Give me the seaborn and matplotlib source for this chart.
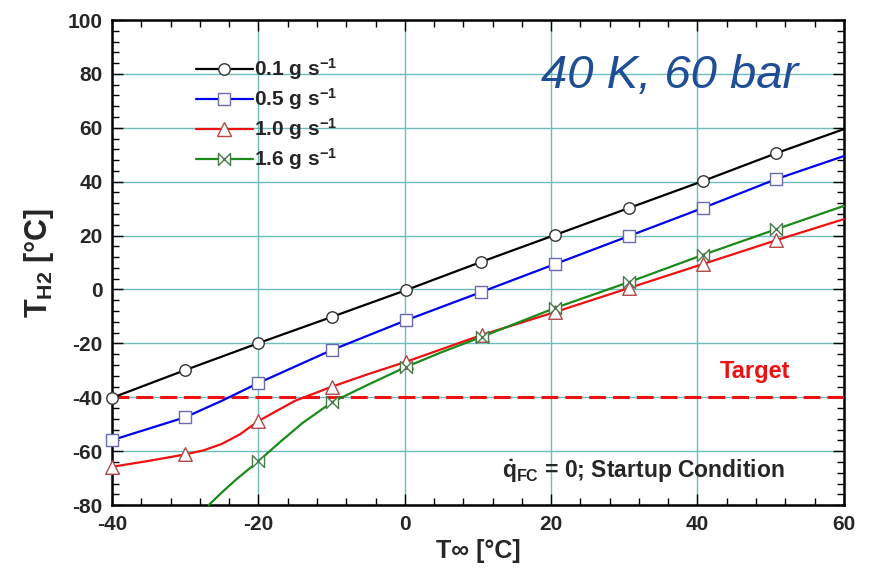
import numpy as np
import pandas as pd
import matplotlib
matplotlib.use("Agg")
import matplotlib.pyplot as plt
from matplotlib.path import Path
from matplotlib.lines import Line2D
from matplotlib.ticker import MultipleLocator
import seaborn as sns

sns.set_theme(style="ticks")
plt.rcParams['font.family'] = ['Liberation Sans', 'DejaVu Sans']
plt.rcParams['mathtext.fontset'] = 'custom'
plt.rcParams['mathtext.rm'] = 'Liberation Sans:bold'
plt.rcParams['mathtext.it'] = 'Liberation Sans:bold:italic'
plt.rcParams['mathtext.bf'] = 'Liberation Sans:bold'
plt.rcParams['axes.unicode_minus'] = False

# curve data (T_inf [C] -> T_H2 [C])
x_01 = [-40, -30, -20, -10, 0.2, 10.4, 20.5, 30.6, 40.7, 50.8, 60]
y_01 = [-40.2, -29.9, -19.9, -10.2, -0.2, 10.2, 20.2, 30.2, 40.2, 50.6, 59.5]

x_05 = [-40, -30, -25, -20, -10, 0.2, 10.4, 20.5, 30.6, 40.7, 50.8, 60]
y_05 = [-55.9, -47.4, -41.3, -34.7, -22.5, -11.4, -1.0, 9.4, 19.8, 30.2, 41.0, 49.5]

x_10 = [-40, -35, -30, -27.5, -25, -22.5, -20, -15, -10, -5, 0.2, 10.5, 20.5, 30.6, 40.7, 50.8, 60]
y_10 = [-65.8, -63.6, -61.2, -59.7, -57.3, -53.7, -48.8, -41.3, -36.1, -31.4, -26.8, -16.9, -8.4, 0.5, 9.4, 18.3, 26.1]

x_16 = [-26.8, -25, -23, -20, -17, -14, -10, -5, 0.2, 5, 10.5, 20.5, 30.6, 40.7, 50.8, 60]
y_16 = [-80, -75.3, -70.4, -63.7, -56.5, -49.6, -41.9, -35.3, -28.7, -23.3, -17.6, -6.9, 2.7, 12.8, 22.4, 31.0]

# marker positions
mx_01 = [-40, -30, -20, -10, 0.2, 10.4, 20.5, 30.6, 40.7, 50.8]
my_01 = [-40.2, -29.9, -19.9, -10.2, -0.2, 10.2, 20.2, 30.2, 40.2, 50.6]
mx_05 = [-40, -30, -20, -10, 0.2, 10.4, 20.5, 30.6, 40.7, 50.8]
my_05 = [-55.9, -47.4, -34.7, -22.5, -11.4, -1.0, 9.4, 19.8, 30.2, 41.0]
mx_10 = [-40, -30, -20, -10, 0.2, 10.5, 20.5, 30.6, 40.7, 50.8]
my_10 = [-65.8, -61.2, -48.8, -36.1, -26.8, -16.9, -8.4, 0.5, 9.4, 18.3]
mx_16 = [-20, -10, 0.2, 10.5, 20.5, 30.6, 40.7, 50.8]
my_16 = [-63.7, -41.9, -28.7, -17.6, -6.9, 2.7, 12.8, 22.4]

labels = ["0.1 g s$^{-1}$", "0.5 g s$^{-1}$", "1.0 g s$^{-1}$", "1.6 g s$^{-1}$"]
target = -40

bowtie = Path([(-1, -1), (1, 1), (1, -1), (-1, 1), (-1, -1)],
              [Path.MOVETO, Path.LINETO, Path.LINETO, Path.LINETO, Path.CLOSEPOLY])

series = [
    (x_01, y_01, mx_01, my_01, "black", "#333333", "o", 68),
    (x_05, y_05, mx_05, my_05, "#0000ee", "#6a6ab0", "s", 82),
    (x_10, y_10, mx_10, my_10, "#ee1111", "#b04848", "^", 95),
    (x_16, y_16, mx_16, my_16, "#1a8a1a", "#4a7a4a", bowtie, 75),
]

fig = plt.figure(figsize=(8.69, 5.72), dpi=100)
ax = fig.add_axes([0.129, 0.117, 0.842, 0.848])

grid_c = "#6fbcbc"
ax.axhline(target, color="#ee1111", lw=2.2, dashes=(5.5, 2.3), zorder=3)

handles = []
for (cx, cy, mx, my, lc, ec, mk, s), lab in zip(series, labels):
    df = pd.DataFrame({"x": cx, "y": cy})
    sns.lineplot(data=df, x="x", y="y", ax=ax, color=lc, linewidth=1.6,
                 sort=False, estimator=None, zorder=4, clip_on=False)
    ax.scatter(mx, my, marker=mk, s=s, facecolor="white", edgecolor=ec,
               linewidth=1.0, zorder=5, clip_on=False)
    handles.append(Line2D([], [], color=lc, lw=1.6, marker=mk, markersize=np.sqrt(s),
                          markerfacecolor="white", markeredgecolor=ec, markeredgewidth=1.0,
                          label=lab))

ax.set_xlim(-40, 60)
ax.set_ylim(-80, 100)
ax.xaxis.set_major_locator(MultipleLocator(20))
ax.yaxis.set_major_locator(MultipleLocator(20))
ax.xaxis.set_minor_locator(MultipleLocator(4))
ax.yaxis.set_minor_locator(MultipleLocator(4))
ax.grid(True, which="major", color=grid_c, lw=1.0, zorder=0)
ax.tick_params(which="both", direction="in", top=True, right=True, color="black")
ax.tick_params(which="major", length=8, width=1, labelsize=15, pad=7)
ax.tick_params(which="minor", length=5, width=1)
for lbl in ax.get_xticklabels() + ax.get_yticklabels():
    lbl.set_fontweight("bold")
for sp in ax.spines.values():
    sp.set_linewidth(1.8)
    sp.set_color("black")

ax.set_xlabel("T\u221e [°C]", fontsize=18, fontweight="bold", labelpad=4)
ax.set_ylabel(r"T$_{\mathbf{H2}}$ [°C]", fontsize=22, fontweight="bold", labelpad=8)

ax.legend(handles=handles, loc="upper left", bbox_to_anchor=(0.114, 0.925), frameon=False,
          prop={"weight": "bold", "size": 15}, handlelength=2.75, handletextpad=0.08,
          labelspacing=0.2, numpoints=1, borderaxespad=0, borderpad=0)

ax.text(36.2, 74.8, "40 K, 60 bar", fontsize=34, style="italic", color="#1f4e96",
        ha="center", va="baseline")
ax.text(47.8, -30.3, "Target", fontsize=17, fontweight="bold", color="#ee1111",
        ha="center", va="center")
ax.text(13.3, -70, r"$\dot{\mathrm{q}}_{\mathrm{FC}}$ = 0; Startup Condition", fontsize=16.5,
        fontweight="bold", ha="left", va="baseline")

fig.savefig("out.png", dpi=100)
